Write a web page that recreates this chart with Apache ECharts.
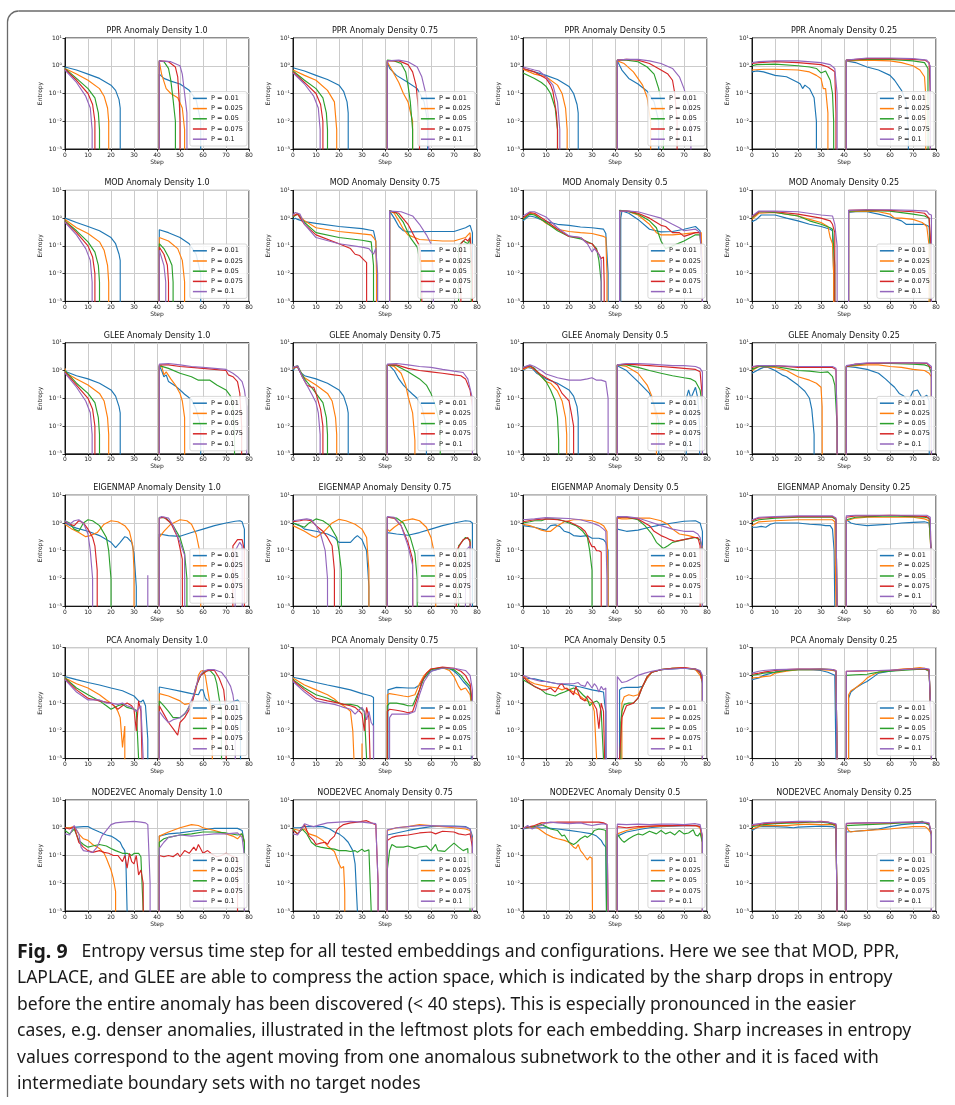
<!DOCTYPE html>
<html>
<head>
<meta charset="utf-8">
<script src="https://cdn.jsdelivr.net/npm/echarts@6/dist/echarts.min.js"></script>
<style>
  html, body { margin: 0; padding: 0; background: #fff; }
  #main { width: 955px; height: 1105px; }
</style>
</head>
<body>
<div id="main"></div>
<script>
// categories
const embeddings = ['PPR', 'MOD', 'GLEE', 'EIGENMAP', 'PCA', 'NODE2VEC'];
const densities = ['1.0', '0.75', '0.5', '0.25'];
const pLabels = ['P = 0.01', 'P = 0.025', 'P = 0.05', 'P = 0.075', 'P = 0.1'];
const stepTicks = [0, 10, 20, 30, 40, 50, 60, 70, 80];
const entropyTicks = ['10\u207B\u00B3', '10\u207B\u00B2', '10\u207B\u00B9', '10\u2070', '10\u00B9'];

// each series: flat list step, entropy, step, entropy ... (0 = entropy zero, off the log axis)
const PPR_10 = [
  [0,0.9, 5,0.7, 10,0.5, 15,0.35, 20,0.2, 22,0.13, 23.5,0.06, 24,0.03, 24.3,0, 40.9,0, 41,0.5, 43,0.35, 46,0.28, 50,0.22, 54,0.13, 57,0.06, 59,0.01, 59.3,0],
  [0,0.8, 5,0.5, 10,0.3, 15,0.15, 17,0.08, 18.5,0.03, 19,0.01, 19.2,0, 40.9,0, 41,1.4, 42,0.5, 44,0.15, 46,0.1, 49,0.07, 51,0.03, 52,0.005, 52.2,0],
  [0,0.8, 5,0.35, 10,0.15, 13,0.07, 14.5,0.02, 15,0.005, 15.2,0, 40.9,0, 41,1.5, 43,1.4, 45,0.8, 46,0.3, 47,0.06, 48,0.01, 48.3,0],
  [0,0.75, 5,0.3, 10,0.1, 12,0.04, 13,0.01, 13.2,0, 40.9,0, 41,1.5, 45,1.4, 48,0.9, 49,0.4, 49.7,0.05, 50,0.01, 50.2,0],
  [0,0.7, 5,0.25, 9,0.08, 11,0.03, 11.8,0.005, 12,0, 40.9,0, 41,1.5, 46,1.4, 50,1.0, 51,0.5, 52,0.1, 53,0.02, 53.5,0]
];
const PPR_075 = [
  [0,0.85, 5,0.65, 10,0.45, 15,0.32, 20,0.2, 22,0.12, 23.5,0.05, 24,0.02, 24.3,0, 40.9,0, 41,1.4, 42,0.8, 45,0.45, 50,0.25, 54,0.15, 57,0.05, 58.5,0.01, 59,0],
  [0,0.7, 5,0.45, 10,0.3, 15,0.13, 18,0.05, 19,0.005, 19.2,0, 40.9,0, 41,1.4, 43,0.7, 46,0.25, 48,0.1, 50,0.05, 52,0.01, 52.5,0],
  [0,0.65, 5,0.3, 10,0.15, 13,0.07, 14.5,0.02, 15,0.005, 15.2,0, 40.9,0, 41,1.6, 44,1.5, 47,1.2, 49,0.6, 50,0.2, 51,0.05, 52,0.005, 52.2,0],
  [0,0.6, 5,0.25, 10,0.1, 12,0.04, 13,0.01, 13.2,0, 40.9,0, 41,1.5, 46,1.5, 50,1.1, 52,0.6, 53.5,0.2, 54.5,0.03, 55,0.005, 55.2,0],
  [0,0.55, 5,0.22, 9,0.08, 11,0.03, 11.8,0.005, 12,0, 40.9,0, 41,1.5, 46,1.6, 50,1.4, 54,0.9, 56,0.4, 58,0.08, 59,0.01, 59.2,0]
];
const PPR_05 = [
  [0,0.8, 5,0.6, 10,0.45, 15,0.32, 20,0.18, 22,0.1, 23.5,0.04, 24,0.02, 24.3,0, 40.9,0, 41,1.5, 43,0.7, 46,0.35, 50,0.22, 54,0.12, 57,0.05, 59,0.01, 59.3,0],
  [0,0.75, 5,0.5, 10,0.4, 15,0.2, 17,0.1, 18.5,0.03, 19.2,0.005, 19.4,0, 40.9,0, 41,1.5, 44,1.2, 48,0.6, 52,0.2, 54,0.07, 55.5,0.01, 56,0],
  [0,0.55, 5,0.35, 8,0.25, 10,0.18, 12,0.1, 14,0.03, 15,0.005, 15.2,0, 40.9,0, 41,1.6, 45,1.6, 50,1.4, 54,0.9, 57,0.5, 59,0.15, 61,0.02, 61.5,0],
  [0,0.8, 5,0.6, 10,0.35, 12,0.2, 13,0.12, 14.5,0.02, 15,0.005, 15.2,0, 40.9,0, 41,1.6, 45,1.7, 50,1.6, 55,1.2, 60,0.7, 63,0.5, 65,0.3, 66,0.1, 67,0.01, 67.2,0],
  [0,0.9, 5,0.7, 7,0.65, 10,0.4, 13,0.2, 15,0.05, 16,0.005, 16.2,0, 40.9,0, 41,1.6, 45,1.7, 50,1.7, 55,1.5, 60,1.2, 65,0.8, 68,0.4, 70,0.15, 72,0.04, 73,0.005, 73.2,0]
];
const PPR_025 = [
  [0,0.6, 2,0.65, 5,0.6, 10,0.45, 15,0.4, 20,0.25, 21,0.22, 22,0.15, 23,0.2, 25,0.15, 27,0.07, 28,0.01, 28.2,0, 40.9,0, 41,1.5, 45,1.3, 50,0.9, 55,0.7, 60,0.45, 62,0.3, 65,0.13, 67,0.05, 68,0.005, 68.2,0],
  [0,0.7, 5,0.75, 10,0.75, 20,0.7, 25,0.6, 28,0.45, 30,0.35, 31,0.15, 32,0.15, 33,0.02, 33.2,0, 40.9,0, 41,1.5, 50,1.6, 60,1.5, 65,1.3, 70,1.0, 73,0.7, 75,0.4, 75.5,0.1, 76,0],
  [0,1.0, 2,1.1, 10,1.15, 20,1.0, 25,0.9, 28,0.8, 30,0.55, 32,0.65, 34,0.3, 35,0.1, 35.5,0.01, 36,0, 40.9,0, 41,1.6, 50,1.7, 60,1.7, 70,1.5, 75,1.3, 76.5,0.8, 77,0],
  [0,1.2, 3,1.3, 10,1.4, 20,1.3, 30,1.1, 33,0.9, 35,0.7, 36,0.6, 36.5,0.02, 37,0, 40.9,0, 41,1.6, 50,1.8, 60,1.8, 70,1.7, 75,1.6, 77,1.3, 77.5,0.1, 78,0],
  [0,1.3, 3,1.4, 10,1.5, 20,1.5, 30,1.3, 34,1.1, 36,0.8, 37,0.1, 37.2,0, 40.9,0, 41,1.6, 50,1.9, 60,1.9, 70,1.8, 76,1.6, 77.5,1.0, 78,0]
];

const MOD_10 = [
  [0,1.0, 5,0.7, 10,0.5, 15,0.35, 20,0.2, 22,0.12, 23.5,0.05, 24,0.03, 24.3,0, 40.9,0, 41,0.38, 45,0.3, 50,0.2, 54,0.12, 57,0.05, 59,0.01, 59.3,0],
  [0,0.9, 5,0.45, 10,0.28, 15,0.14, 17,0.07, 18.5,0.02, 19,0.005, 19.2,0, 40.9,0, 41,0.2, 45,0.15, 49,0.08, 51,0.03, 52,0.005, 52.2,0],
  [0,0.8, 5,0.35, 10,0.14, 13,0.06, 14.5,0.02, 15,0.005, 15.2,0, 40.9,0, 41,0.12, 43,0.08, 45,0.04, 46.5,0.02, 47,0.005, 47.2,0],
  [0,0.75, 5,0.3, 10,0.1, 12,0.04, 13,0.01, 13.2,0, 40.9,0, 41,0.09, 43,0.05, 44.5,0.02, 45,0.005, 45.2,0],
  [0,0.7, 5,0.25, 9,0.08, 11,0.03, 11.8,0.005, 12,0, 40.9,0, 41,0.07, 43,0.02, 43.8,0.005, 44,0]
];
const MOD_075 = [
  [0,0.9, 1,1.0, 2,0.9, 5,0.75, 10,0.65, 20,0.5, 30,0.42, 35,0.35, 36,0.15, 36.5,0.01, 36.7,0, 41.9,0, 42,1.8, 44,1.0, 46,0.5, 48,0.35, 50,0.32, 60,0.33, 70,0.33, 75,0.45, 77,0.55, 78,0.3, 78.3,0],
  [0,1.2, 2,1.5, 5,0.8, 10,0.45, 20,0.33, 30,0.27, 34,0.25, 35,0.2, 36,0.15, 36.3,0.01, 36.5,0, 41.9,0, 42,1.8, 44,1.5, 46,0.8, 48,0.4, 50,0.25, 55,0.17, 60,0.16, 65,0.15, 70,0.15, 75,0.2, 77,0.3, 78,0.01, 78.3,0],
  [0,1.1, 2,1.4, 5,0.7, 10,0.3, 20,0.2, 30,0.16, 34,0.14, 35,0.02, 35.2,0, 41.9,0, 42,1.9, 45,1.5, 48,0.7, 51,0.2, 54,0.09, 55.5,0.02, 56,0, 71.8,0, 72,0.1, 74,0.15, 76,0.12, 77,0.18, 77.5,0.01, 77.7,0],
  [0,1.2, 2,1.4, 5,0.6, 10,0.25, 20,0.12, 25,0.08, 27,0.05, 29,0.045, 31,0.03, 32,0.025, 32.2,0, 41.9,0, 42,1.8, 46,1.5, 50,0.6, 53,0.2, 55,0.1, 56,0.01, 56.2,0, 72.8,0, 73,0.12, 75,0.18, 76,0.15, 77,0.2, 78,0.01, 78.2,0],
  [0,1.3, 1,1.6, 3,1.4, 5,0.6, 10,0.2, 20,0.12, 30,0.09, 33,0.08, 35,0.05, 36,0.08, 36.8,0.01, 37,0, 41.9,0, 42,1.8, 47,1.7, 52,1.2, 55,0.6, 58,0.25, 60,0.12, 61,0.01, 61.2,0]
];
const MOD_05 = [
  [0,0.8, 2,1.1, 3,1.2, 5,1.1, 10,0.75, 15,0.6, 20,0.55, 25,0.48, 30,0.45, 35,0.4, 36,0.28, 37,0.01, 37.3,0, 42.4,0, 42.5,1.0, 43,1.8, 46,1.5, 50,0.9, 55,0.4, 60,0.32, 65,0.33, 70,0.4, 75,0.5, 77,0.35, 78,0.01, 78.3,0],
  [0,1.0, 3,1.5, 5,1.4, 10,0.65, 15,0.4, 20,0.33, 25,0.3, 30,0.28, 35,0.22, 36,0.2, 36.5,0.01, 37,0, 41.9,0, 42,1.8, 45,1.8, 50,1.3, 55,0.6, 58,0.3, 60,0.25, 65,0.25, 70,0.27, 75,0.3, 77.5,0.3, 78,0.01, 78.2,0],
  [0,0.9, 3,1.4, 5,1.3, 10,0.7, 15,0.35, 20,0.22, 25,0.18, 30,0.12, 32,0.08, 33,0.03, 34,0.005, 34.2,0, 41.9,0, 42,1.9, 45,1.8, 50,1.4, 55,0.8, 58,0.45, 60,0.15, 62,0.08, 65,0.1, 70,0.15, 75,0.25, 77,0.25, 78,0.01, 78.2,0],
  [0,1.0, 3,1.6, 5,1.5, 10,0.8, 15,0.4, 20,0.22, 25,0.2, 28,0.13, 30,0.12, 32,0.07, 34,0.035, 35,0.04, 35.3,0.005, 35.5,0, 41.9,0, 42,1.8, 46,1.8, 50,1.5, 55,1.0, 60,0.55, 62,0.5, 65,0.3, 68,0.3, 70,0.22, 72,0.25, 75,0.3, 77,0.3, 78,0.01, 78.2,0],
  [0,1.2, 3,1.7, 5,1.7, 10,1.1, 15,0.45, 20,0.23, 25,0.2, 28,0.12, 30,0.06, 31,0.08, 33,0.05, 34,0.03, 34.3,0, 41.9,0, 42,1.8, 46,1.8, 50,1.7, 55,1.3, 60,1.0, 65,0.6, 68,0.45, 70,0.35, 75,0.4, 77,0.3, 78,0.01, 78.2,0]
];
const MOD_025 = [
  [0,0.75, 2,0.9, 4,1.3, 10,1.3, 15,1.0, 20,0.8, 25,0.6, 30,0.5, 34,0.4, 35,0.35, 35.5,0.01, 35.7,0, 41.9,0, 42,1.6, 45,1.7, 50,1.7, 55,1.4, 60,1.1, 65,0.8, 67,0.6, 70,0.6, 75,0.6, 77,0.5, 78,0.01, 78.2,0],
  [0,0.9, 3,1.5, 10,1.6, 20,1.2, 25,0.9, 30,0.7, 33,0.5, 34,0.2, 35,0.12, 35.5,0.01, 35.7,0, 41.9,0, 42,1.7, 50,1.8, 55,1.7, 60,1.4, 62,1.0, 65,1.0, 70,0.9, 74,0.7, 76,0.5, 77,0.1, 77.2,0],
  [0,1.0, 3,1.7, 10,1.6, 20,1.2, 25,0.8, 30,0.6, 34,0.45, 35,0.4, 36,0.02, 36.2,0, 41.9,0, 42,1.8, 50,1.9, 60,1.8, 70,1.4, 75,1.2, 77,1.0, 77.5,0.1, 77.7,0],
  [0,1.1, 3,1.7, 10,1.7, 20,1.4, 30,1.0, 34,0.8, 35,0.6, 36,0.3, 36.2,0, 41.9,0, 42,1.9, 50,2.0, 60,1.9, 70,1.7, 75,1.5, 77,1.0, 77.8,0.1, 78,0],
  [0,1.2, 3,1.8, 10,1.8, 20,1.7, 30,1.3, 35,1.2, 36,0.6, 37,0.1, 37.2,0, 41.9,0, 42,1.9, 50,2.0, 60,2.0, 70,1.9, 76,1.8, 77,1.4, 78,1.3, 78.3,0]
];

const GLEE_10 = [
  [0,1.2, 0.5,0.9, 5,0.65, 10,0.5, 15,0.35, 20,0.2, 22,0.12, 23.5,0.05, 24,0.03, 24.3,0, 40.9,0, 41,1.5, 42,1.0, 43,0.6, 44,0.7, 45,0.4, 48,0.28, 50,0.2, 52,0.14, 55,0.09, 57,0.04, 59,0.01, 59.3,0],
  [0,1.2, 0.5,0.8, 5,0.5, 10,0.3, 15,0.15, 17,0.08, 18.5,0.02, 19,0.005, 19.2,0, 40.9,0, 41,1.3, 42,1.5, 43,0.7, 44,0.9, 46,0.5, 48,0.3, 50,0.15, 51,0.08, 52,0.02, 52.5,0],
  [0,1.0, 5,0.35, 10,0.15, 13,0.07, 14.5,0.02, 15,0.005, 15.2,0, 40.9,0, 41,1.5, 45,1.2, 50,0.8, 55,0.6, 58,0.45, 60,0.45, 63,0.45, 66,0.3, 70,0.2, 72,0.12, 73,0.05, 73.7,0.005, 74,0],
  [0,0.9, 5,0.3, 10,0.1, 12,0.04, 13,0.01, 13.2,0, 40.9,0, 41,1.6, 45,1.6, 50,1.4, 55,1.3, 60,1.2, 65,1.1, 70,1.0, 71,0.7, 73,0.6, 75,0.4, 76,0.15, 76.8,0.01, 77,0],
  [0,0.8, 5,0.25, 9,0.08, 11,0.03, 11.8,0.005, 12,0, 40.9,0, 41,1.7, 45,1.8, 50,1.6, 55,1.4, 60,1.3, 65,1.2, 70,1.1, 73,0.8, 75,0.6, 77,0.4, 78,0.2, 79,0.05, 79.3,0]
];
const GLEE_075 = [
  [0,1.0, 1,1.3, 2,1.3, 3,0.9, 5,0.65, 10,0.5, 15,0.35, 20,0.2, 22,0.12, 23.5,0.05, 24,0.03, 24.3,0, 40.9,0, 41,1.6, 42,1.5, 44,1.0, 46,0.5, 48,0.3, 50,0.2, 52,0.14, 54,0.1, 56,0.05, 58,0.01, 58.5,0],
  [0,1.2, 2,1.4, 4,0.7, 5,0.55, 10,0.3, 15,0.15, 17,0.08, 18.5,0.02, 19,0.005, 19.2,0, 40.9,0, 41,1.6, 44,1.4, 47,0.8, 49,0.3, 50,0.12, 52,0.03, 53,0.003, 53.2,0],
  [0,1.3, 2,1.5, 4,0.7, 5,0.5, 8,0.25, 10,0.15, 13,0.07, 14.5,0.02, 15,0.005, 15.2,0, 40.9,0, 41,1.6, 45,1.5, 50,0.9, 55,0.5, 58,0.3, 60,0.15, 62,0.05, 64,0.01, 64.5,0],
  [0,1.3, 2,1.4, 4,0.6, 6,0.3, 8,0.25, 9,0.25, 10,0.15, 12,0.04, 13,0.01, 13.2,0, 40.9,0, 41,1.6, 45,1.6, 50,1.2, 55,1.0, 60,0.9, 65,0.8, 70,0.7, 73,0.65, 75,0.5, 77,0.2, 78,0.05, 78.5,0],
  [0,1.3, 2,1.5, 4,0.6, 6,0.3, 8,0.15, 10,0.07, 11,0.03, 11.8,0.005, 12,0, 40.9,0, 41,1.7, 45,1.8, 50,1.6, 55,1.4, 60,1.3, 65,1.1, 70,0.95, 74,0.85, 76,0.5, 78,0.1, 78.5,0]
];
const GLEE_05 = [
  [0,1.0, 2,1.3, 4,1.2, 6,0.8, 10,0.5, 15,0.35, 20,0.2, 22,0.12, 23.5,0.05, 24,0.02, 24.3,0, 40.9,0, 41,1.5, 45,1.0, 50,0.4, 55,0.15, 57,0.06, 59,0.015, 59.5,0, 70.8,0, 71,0.1, 72,0.2, 73,0.1, 75,0.25, 76,0.1, 76.8,0.01, 77,0],
  [0,1.1, 3,1.4, 5,1.1, 8,0.6, 10,0.4, 12,0.35, 15,0.18, 17,0.08, 18.5,0.02, 19,0.005, 19.2,0, 40.9,0, 41,1.6, 45,1.4, 50,0.8, 54,0.3, 56,0.12, 58,0.02, 58.5,0],
  [0,1.3, 3,1.5, 5,1.2, 8,0.6, 10,0.4, 12,0.2, 14,0.08, 15,0.02, 15.5,0.003, 15.7,0, 40.9,0, 41,1.6, 45,1.6, 50,1.3, 55,1.0, 60,0.8, 65,0.65, 70,0.55, 73,0.5, 75,0.4, 77,0.2, 78,0.05, 78.3,0],
  [0,1.2, 3,1.5, 5,1.1, 8,0.7, 10,0.55, 13,0.4, 15,0.3, 17,0.15, 19,0.1, 20,0.08, 21,0.03, 22,0.01, 22.2,0, 40.9,0, 41,1.6, 45,1.7, 50,1.6, 55,1.5, 60,1.4, 65,1.3, 70,1.2, 75,1.1, 77,0.9, 78,0.1, 78.3,0],
  [0,1.3, 3,1.6, 5,1.4, 8,1.0, 10,0.75, 15,0.55, 20,0.45, 25,0.45, 28,0.5, 30,0.55, 32,0.45, 34,0.45, 36,0.4, 37,0.1, 37.2,0, 40.9,0, 41,1.6, 45,1.8, 50,1.8, 55,1.7, 60,1.6, 65,1.5, 70,1.5, 75,1.4, 77,1.2, 78,0.9, 78.5,0]
];
const GLEE_025 = [
  [0,0.8, 3,1.1, 5,1.3, 7,1.3, 10,1.0, 13,0.7, 15,0.6, 20,0.3, 23,0.18, 25,0.1, 26,0.04, 27,0.005, 27.2,0, 40.9,0, 41,1.4, 45,1.3, 50,1.1, 55,0.8, 58,0.5, 60,0.35, 62,0.25, 64,0.15, 66,0.12, 68,0.08, 70,0.18, 72,0.2, 74,0.1, 76,0.13, 77,0.08, 78,0],
  [0,1.0, 3,1.4, 10,1.3, 15,1.0, 20,0.6, 25,0.45, 28,0.35, 30,0.25, 30.5,0.05, 31,0, 40.9,0, 41,1.4, 45,1.5, 50,1.6, 55,1.6, 60,1.4, 65,1.3, 70,1.1, 75,1.0, 77,0.8, 78,0.6, 78.3,0],
  [0,1.1, 3,1.4, 10,1.4, 15,1.2, 20,1.0, 25,0.95, 30,0.85, 33,0.9, 35,0.6, 36,0.3, 37,0.01, 37.2,0, 40.9,0, 41,1.4, 45,1.6, 50,1.8, 60,1.8, 70,1.7, 75,1.6, 77,1.4, 78,0.8, 78.3,0],
  [0,1.3, 3,1.5, 10,1.5, 20,1.3, 30,1.3, 35,1.3, 36.5,1.1, 37,0.01, 37.2,0, 40.9,0, 41,1.4, 45,1.7, 50,1.8, 60,1.9, 70,1.9, 76,1.8, 78,1.2, 78.3,0],
  [0,1.4, 3,1.5, 10,1.5, 20,1.4, 30,1.4, 35,1.4, 36.5,1.2, 37,0.01, 37.2,0, 40.9,0, 41,1.5, 45,1.7, 50,1.9, 60,1.9, 70,1.9, 76,1.9, 78,1.4, 78.5,0]
];

const EIGENMAP_10 = [
  [0,1.0, 3,0.75, 5,0.65, 10,0.5, 15,0.35, 20,0.2, 22,0.13, 24,0.2, 26,0.32, 27,0.3, 29,0.2, 30,0.08, 31,0.005, 31.2,0, 40.9,0, 41,0.4, 45,0.35, 50,0.33, 55,0.45, 60,0.6, 65,0.8, 70,1.0, 74,1.15, 76,1.2, 77,1.1, 78,0.6, 78.3,0],
  [0,0.9, 3,0.6, 6,0.45, 9,0.32, 11,0.35, 14,0.45, 17,0.9, 20,1.2, 23,1.1, 26,0.8, 28,0.5, 29.5,0.15, 30,0.02, 30.2,0, 40.9,0, 41,0.3, 43,0.5, 46,0.9, 50,1.3, 53,1.2, 55,0.9, 57,0.4, 58.5,0.1, 59,0.03, 59.3,0],
  [0,1.2, 2,1.0, 4,0.6, 6,0.5, 8,1.0, 10,1.3, 12,1.2, 15,0.8, 18,0.3, 19,0.1, 20,0.01, 20.2,0, 40.9,0, 41,1.6, 44,1.5, 47,0.8, 50,0.3, 52,0.08, 53,0.01, 53.3,0],
  [0,1.1, 2,0.9, 4,0.8, 6,1.2, 8,1.0, 10,0.6, 12,0.3, 13,0.15, 14,0.02, 14.2,0, 40.9,0, 41,1.5, 43,1.6, 46,1.0, 49,0.3, 51,0.05, 52,0, 72.8,0, 73,0.15, 75,0.25, 77,0.25, 78,0.1, 78.3,0],
  [0,1.2, 2,0.9, 4,1.2, 6,1.3, 8,1.0, 10,0.4, 11,0.1, 12,0.01, 12.2,0, 35.9,0, 36,0.013, 36.1,0, 40.9,0, 41,1.5, 42,1.7, 45,1.5, 47,0.8, 50,0.2, 52,0.07, 53,0, 73.8,0, 74,0.1, 76,0.2, 77,0.15, 78,0]
];
const EIGENMAP_075 = [
  [0,1.0, 3,0.8, 5,0.6, 10,0.5, 15,0.4, 18,0.3, 20,0.2, 23,0.2, 25,0.2, 27,0.3, 28,0.35, 30,0.25, 32,0.1, 33,0.005, 33.2,0, 40.9,0, 41,0.45, 45,0.4, 50,0.36, 55,0.45, 60,0.6, 65,0.8, 70,1.0, 75,1.2, 77,1.15, 78,1.0, 78.2,0],
  [0,0.8, 5,0.5, 8,0.35, 10,0.3, 13,0.45, 17,1.0, 20,1.35, 23,1.2, 27,0.9, 30,0.6, 32,0.3, 33,0.02, 33.2,0, 40.9,0, 41,0.6, 42,0.5, 44,0.7, 48,1.2, 52,1.4, 55,1.2, 58,0.7, 60,0.3, 62,0.05, 63,0],
  [0,1.0, 3,0.8, 5,0.7, 7,1.0, 10,1.4, 13,1.2, 16,0.8, 19,0.3, 20,0.1, 21,0.02, 22,0, 40.9,0, 41,1.6, 45,1.5, 48,1.0, 51,0.3, 53,0.08, 54,0.01, 54.5,0, 71.8,0, 72,0.15, 75,0.3, 77,0.25, 78,0],
  [0,1.1, 3,1.2, 5,1.3, 8,1.2, 10,0.8, 13,0.5, 15,0.3, 17,0.15, 18,0.02, 18.2,0, 40.9,0, 41,1.6, 44,1.5, 47,0.8, 50,0.2, 52,0.05, 53,0, 70.8,0, 71,0.1, 74,0.25, 76,0.3, 77,0.2, 78,0],
  [0,1.2, 3,1.3, 6,1.4, 8,1.3, 10,0.8, 12,0.4, 14,0.1, 15,0.01, 15.2,0, 40.9,0, 41,1.7, 44,1.6, 47,0.8, 50,0.15, 52,0.03, 53,0, 74.8,0, 75,0.1, 77,0.15, 78,0]
];
const EIGENMAP_05 = [
  [0,0.8, 5,0.7, 8,0.6, 10,0.55, 12,0.8, 14,0.85, 16,0.75, 18,0.5, 20,0.45, 22,0.35, 25,0.33, 28,0.35, 30,0.28, 33,0.28, 35,0.25, 36,0.2, 37,0.1, 37.2,0, 40.9,0, 41,0.6, 45,0.5, 50,0.55, 55,0.7, 60,0.85, 65,1.0, 70,1.15, 75,1.2, 77,1.0, 78,0.5, 78.2,0],
  [0,0.9, 3,0.8, 5,0.7, 8,0.55, 10,0.5, 12,0.5, 15,0.8, 18,1.1, 22,1.3, 25,1.3, 30,1.2, 33,1.0, 35,0.8, 36.5,0.5, 37,0.01, 37.2,0, 40.9,0, 41,1.5, 43,1.4, 45,1.4, 50,1.5, 55,1.5, 60,1.2, 63,0.9, 65,0.6, 68,0.4, 72,0.35, 75,0.3, 77,0.25, 78,0.12, 78.3,0],
  [0,1.0, 3,1.1, 5,1.2, 8,1.2, 10,1.4, 13,1.4, 16,1.3, 20,1.0, 23,0.8, 26,0.5, 28,0.3, 29,0.1, 30,0.02, 30.2,0, 40.9,0, 41,1.6, 45,1.6, 50,1.3, 53,0.8, 56,0.4, 58,0.2, 61,0.12, 63,0.15, 65,0.2, 70,0.25, 75,0.3, 77,0.25, 78,0.1, 78.2,0],
  [0,1.1, 5,1.3, 10,1.4, 15,1.3, 20,1.1, 25,0.7, 27,0.5, 28,0.35, 29,0.2, 30,0.14, 31,0.14, 32,0.1, 33,0.1, 34,0.09, 34.2,0, 40.9,0, 41,1.6, 45,1.6, 50,1.4, 55,0.8, 57,0.5, 60,0.35, 62,0.3, 64,0.25, 66,0.22, 70,0.25, 74,0.3, 76,0.3, 77,0.15, 77.3,0],
  [0,1.3, 5,1.4, 10,1.55, 15,1.5, 20,1.45, 25,1.3, 30,1.0, 33,0.8, 35,0.6, 36,0.5, 36.5,0.01, 36.7,0, 40.9,0, 41,1.7, 45,1.7, 50,1.5, 55,1.1, 60,0.8, 65,0.6, 70,0.5, 74,0.5, 76,0.4, 77,0.3, 78,0.1, 78.3,0]
];
const EIGENMAP_025 = [
  [0,0.7, 2,0.7, 4,0.75, 6,0.7, 8,0.9, 10,1.0, 15,1.0, 20,1.0, 25,0.9, 30,0.85, 32,0.8, 34,0.8, 35,0.6, 35.7,0.1, 36,0.001, 36.2,0, 40.9,0, 41,1.3, 43,1.0, 45,0.9, 50,0.8, 55,0.85, 60,0.9, 65,1.0, 70,1.05, 75,1.1, 77,1.0, 78,0.1, 78.2,0],
  [0,0.8, 3,1.1, 10,1.2, 20,1.3, 30,1.3, 35,1.3, 36,1.1, 36.5,0.001, 37,0, 40.9,0, 41,1.2, 45,1.5, 50,1.6, 60,1.6, 70,1.6, 75,1.4, 77,1.2, 78,0.05, 78.2,0],
  [0,1.1, 3,1.3, 10,1.5, 20,1.6, 30,1.6, 35,1.6, 36.5,1.3, 37,0.001, 37.2,0, 40.9,0, 41,1.3, 45,1.6, 50,1.7, 60,1.8, 70,1.7, 75,1.6, 77,1.5, 78,0.05, 78.2,0],
  [0,1.2, 3,1.5, 10,1.6, 20,1.7, 30,1.7, 35,1.7, 36.5,1.4, 37,0.001, 37.2,0, 40.9,0, 41,1.6, 45,1.8, 50,1.8, 60,1.9, 70,1.8, 76,1.7, 77.5,1.3, 78,0.01, 78.2,0],
  [0,1.3, 3,1.6, 10,1.7, 20,1.8, 30,1.8, 35,1.8, 36.5,1.5, 37,0.001, 37.2,0, 40.9,0, 41,1.8, 45,1.9, 50,1.9, 60,1.9, 70,1.9, 76,1.9, 77.5,1.6, 78,0.01, 78.2,0]
];

const PCA_10 = [
  [0,0.9, 5,0.7, 10,0.55, 15,0.45, 20,0.35, 25,0.28, 30,0.18, 32,0.12, 33,0.11, 34,0.13, 35,0.08, 36,0.005, 36.2,0, 40.9,0, 41,0.38, 45,0.33, 50,0.27, 55,0.22, 58,0.2, 59,0.3, 60,0.3, 61,0.15, 63,0.1, 65,0.09, 70,0.09, 75,0.13, 76.3,0.1, 76.5,0],
  [0,0.8, 5,0.5, 10,0.35, 15,0.2, 18,0.13, 20,0.1, 22,0.07, 23,0.05, 24,0.03, 25,0.0025, 26,0.015, 26.2,0, 40.9,0, 41,0.22, 45,0.18, 50,0.12, 52,0.09, 55,0.1, 57,0.3, 58,1.0, 59,1.4, 60,1.5, 61,1.0, 62,0.3, 63,0.1, 64,0.03, 65,0],
  [0,0.8, 5,0.35, 10,0.2, 15,0.12, 18,0.08, 20,0.06, 23,0.08, 25,0.09, 27,0.07, 30,0.06, 31,0.055, 32,0.001, 32.2,0, 40.9,0, 41,0.12, 43,0.08, 45,0.05, 47,0.03, 50,0.03, 52,0.04, 55,0.1, 57,0.4, 59,1.0, 61,1.4, 63,1.5, 65,1.0, 66,0.5, 67,0.15, 68,0.05, 69,0],
  [0,0.75, 5,0.3, 10,0.15, 15,0.12, 20,0.1, 23,0.06, 25,0.08, 27,0.1, 29,0.08, 30,0.06, 31,0.01, 32,0.12, 33,0.05, 33.5,0.001, 34,0, 40.9,0, 41,0.08, 43,0.04, 45,0.02, 47,0.012, 49,0.007, 50,0.02, 52,0.03, 55,0.08, 57,0.4, 59,1.0, 62,1.5, 65,1.5, 67,0.8, 69,0.3, 70,0.05, 71,0],
  [0,0.7, 5,0.25, 10,0.13, 15,0.13, 18,0.1, 20,0.1, 23,0.09, 25,0.1, 27,0.08, 29,0.07, 31,0.05, 33,0.08, 34,0.001, 34.2,0, 40.9,0, 41,0.05, 43,0.03, 45,0.02, 47,0.025, 50,0.03, 53,0.05, 56,0.2, 58,0.8, 60,1.4, 62,1.6, 65,1.6, 68,1.3, 70,0.8, 72,0.4, 73,0.2, 74,0.05, 74.5,0]
];
const PCA_075 = [
  [0,0.85, 5,0.7, 10,0.55, 15,0.45, 20,0.37, 25,0.3, 30,0.22, 32,0.2, 34,0.18, 35,0.16, 35.2,0, 41.2,0, 41.3,0.3, 42,0.35, 45,0.37, 50,0.35, 53,0.35, 55,0.45, 57,0.8, 60,1.4, 65,1.9, 68,1.8, 70,1.4, 72,1.0, 74,0.6, 76,0.4, 77,0.3, 77.5,0.1, 78,0],
  [0,0.8, 5,0.45, 10,0.3, 15,0.2, 18,0.14, 20,0.1, 22,0.08, 24,0.06, 25,0.05, 26,0.01, 26.5,0.001, 27,0, 29.9,0, 30,0.0035, 30.1,0, 40.9,0, 41,0.2, 42,0.22, 45,0.2, 48,0.18, 50,0.17, 53,0.2, 55,0.5, 57,1.0, 60,1.7, 65,1.9, 68,1.5, 70,0.9, 72,0.4, 73,0.3, 75,0.35, 77,0.2, 78,0.05, 78.3,0],
  [0,0.7, 5,0.35, 10,0.2, 15,0.15, 20,0.1, 22,0.09, 25,0.09, 28,0.08, 30,0.06, 31,0.05, 32,0.001, 32.2,0, 40.9,0, 41,0.08, 42,0.1, 45,0.1, 48,0.09, 50,0.08, 52,0.08, 55,0.3, 57,0.8, 60,1.6, 65,1.9, 70,1.6, 73,1.0, 75,0.6, 77,0.4, 78,0.05, 78.3,0],
  [0,0.65, 5,0.3, 10,0.15, 15,0.12, 20,0.1, 22,0.09, 25,0.08, 27,0.07, 29,0.05, 30,0.04, 31,0.01, 32,0.07, 33,0.03, 33.5,0.001, 34,0, 40.9,0, 41,0.05, 42,0.06, 45,0.055, 48,0.05, 50,0.045, 52,0.05, 54,0.15, 56,0.6, 58,1.2, 60,1.7, 65,2.0, 70,1.8, 73,1.4, 75,1.0, 77,0.5, 78,0.1, 78.3,0],
  [0,0.6, 5,0.25, 10,0.12, 15,0.1, 18,0.09, 20,0.08, 22,0.07, 25,0.06, 27,0.04, 29,0.06, 30,0.07, 31,0.05, 32,0.025, 33,0.05, 34,0.02, 35,0.015, 35.2,0, 41.9,0, 42,0.03, 43,0.04, 45,0.04, 50,0.04, 53,0.05, 55,0.2, 57,0.6, 60,1.4, 65,1.8, 70,1.8, 75,1.5, 77,1.0, 78,0.3, 78.3,0]
];
const PCA_05 = [
  [0,0.8, 5,0.75, 10,0.6, 15,0.5, 20,0.45, 25,0.38, 30,0.3, 33,0.27, 35,0.25, 35.5,0.1, 36,0.05, 36.2,0, 41.9,0, 42,0.3, 43,0.35, 45,0.37, 50,0.37, 52,0.4, 54,0.8, 56,1.3, 60,1.6, 65,1.7, 70,1.8, 75,1.6, 77,1.2, 78,0.5, 78.2,0],
  [0,1.0, 3,0.6, 5,0.5, 10,0.4, 15,0.35, 17,0.3, 19,0.35, 20,0.3, 22,0.25, 24,0.2, 26,0.15, 28,0.12, 30,0.1, 31,0.05, 32,0.001, 32.2,0, 42.9,0, 43,0.1, 44,0.17, 46,0.2, 48,0.18, 50,0.2, 52,0.4, 54,0.8, 56,1.3, 60,1.6, 65,1.8, 70,1.9, 75,1.6, 77,1.0, 78,0.6, 78.2,0],
  [0,0.7, 3,0.5, 5,0.4, 8,0.3, 10,0.22, 12,0.2, 14,0.18, 16,0.22, 18,0.25, 20,0.3, 22,0.35, 24,0.3, 26,0.2, 28,0.14, 29,0.08, 30,0.1, 32,0.12, 33,0.1, 34,0.05, 35,0.001, 35.2,0, 42.4,0, 42.5,0.02, 43,0.05, 44,0.09, 46,0.1, 48,0.1, 50,0.15, 52,0.4, 54,0.9, 56,1.3, 60,1.6, 65,1.8, 70,1.8, 75,1.7, 77,1.4, 78,0.8, 78.2,0],
  [0,0.9, 2,0.6, 5,0.4, 8,0.3, 10,0.3, 12,0.35, 14,0.25, 16,0.45, 17,0.5, 18,0.35, 20,0.3, 22,0.2, 23,0.4, 25,0.15, 27,0.12, 28,0.18, 30,0.12, 32,0.06, 33,0.012, 34,0.1, 35,0.05, 35.5,0.001, 36,0, 41.9,0, 42,0.001, 43,0.03, 45,0.08, 48,0.1, 50,0.15, 52,0.4, 54,0.9, 56,1.3, 60,1.6, 65,1.8, 70,1.9, 75,1.7, 77,1.3, 78,0.6, 78.2,0],
  [0,1.0, 3,0.8, 5,0.7, 8,0.6, 10,0.6, 12,0.55, 15,0.5, 17,0.5, 20,0.5, 22,0.5, 24,0.55, 25,0.45, 27,0.4, 28,0.6, 30,0.35, 31,0.5, 32,0.4, 33,0.25, 34,0.4, 35,0.3, 36,0.35, 36.2,0.001, 36.5,0, 40.9,0, 41,0.9, 42,0.7, 43,0.55, 45,0.6, 48,0.8, 50,1.0, 53,1.2, 56,1.4, 60,1.6, 65,1.7, 70,1.8, 75,1.7, 77,1.5, 78,1.0, 78.2,0]
];
const PCA_025 = [
  [0,0.7, 3,0.8, 5,1.0, 10,1.3, 15,1.5, 20,1.6, 25,1.6, 30,1.5, 33,1.3, 35,1.1, 36,1.0, 36.5,0.001, 37,0, 41.9,0, 42,0.15, 43,0.25, 45,0.35, 48,0.5, 50,0.6, 53,0.9, 55,1.2, 60,1.4, 65,1.6, 70,1.7, 75,1.7, 77,1.4, 78,0.01, 78.2,0],
  [0,0.8, 3,0.85, 5,0.9, 8,0.95, 10,1.2, 15,1.4, 20,1.6, 25,1.6, 30,1.6, 35,1.5, 36.5,1.4, 37,0.001, 37.2,0, 41.9,0, 42,0.2, 43,0.28, 45,0.35, 48,0.55, 50,0.8, 53,1.1, 55,1.3, 60,1.5, 65,1.7, 70,1.8, 73,1.9, 75,1.8, 77,1.4, 78,0.01, 78.2,0],
  [0,1.0, 3,1.1, 5,1.2, 10,1.3, 15,1.5, 20,1.6, 25,1.6, 30,1.7, 35,1.6, 36.5,1.4, 37,0.001, 37.2,0, 40.9,0, 41,1.0, 45,1.05, 50,1.1, 55,1.3, 60,1.4, 65,1.5, 70,1.6, 75,1.7, 77,1.5, 78,0.01, 78.2,0],
  [0,1.1, 3,1.2, 5,1.3, 10,1.5, 15,1.6, 20,1.7, 25,1.7, 30,1.7, 35,1.6, 36.5,1.5, 37,0.001, 37.2,0, 40.9,0, 41,1.4, 45,1.4, 50,1.45, 55,1.5, 60,1.5, 65,1.6, 70,1.7, 75,1.7, 77,1.6, 78,0.01, 78.2,0],
  [0,1.2, 3,1.4, 5,1.5, 10,1.6, 15,1.65, 20,1.7, 25,1.7, 30,1.7, 35,1.6, 36.5,1.5, 37,0.001, 37.2,0, 40.9,0, 41,1.4, 45,1.45, 50,1.5, 55,1.5, 60,1.55, 65,1.6, 70,1.7, 75,1.8, 77,1.7, 78,0.01, 78.2,0]
];

const NODE2VEC_10 = [
  [0,1.0, 3,1.0, 5,1.05, 8,1.1, 10,1.1, 12,0.9, 15,0.7, 18,0.55, 20,0.5, 22,0.4, 24,0.3, 25,0.2, 26,0.15, 26.5,0.05, 27,0.001, 27.2,0, 40.9,0, 41,0.5, 43,0.55, 45,0.6, 50,0.65, 55,0.75, 60,0.85, 65,0.95, 70,0.95, 75,0.95, 77,0.8, 78,0.3, 78.3,0],
  [0,1.0, 2,1.0, 4,1.1, 6,0.6, 8,0.4, 10,0.35, 12,0.25, 15,0.18, 17,0.12, 18,0.08, 20,0.03, 21,0.015, 22,0.005, 22.2,0, 40.9,0, 41,0.5, 45,0.7, 50,1.0, 55,1.3, 58,1.2, 60,1.0, 65,0.8, 70,0.6, 73,0.5, 75,0.4, 77,0.6, 78,0.3, 78.3,0],
  [0,0.8, 2,0.6, 4,0.9, 6,0.35, 8,0.25, 10,0.2, 12,0.22, 15,0.25, 18,0.22, 20,0.18, 22,0.15, 25,0.12, 27,0.12, 29,0.1, 30,0.12, 32,0.12, 33,0.09, 34,0.001, 34.2,0, 40.9,0, 41,0.3, 43,0.4, 45,0.45, 50,0.55, 55,0.6, 60,0.7, 65,0.7, 70,0.65, 75,0.55, 77,0.6, 78,0.3, 78.3,0],
  [0,1.0, 2,0.9, 4,1.1, 6,0.3, 8,0.2, 10,0.15, 12,0.13, 15,0.15, 17,0.13, 19,0.12, 21,0.1, 23,0.1, 25,0.06, 26,0.1, 27,0.035, 28,0.12, 29,0.06, 30,0.05, 31,0.1, 32,0.02, 33,0.03, 34,0.01, 34.2,0, 40.9,0, 41,0.1, 43,0.09, 45,0.1, 47,0.09, 49,0.12, 50,0.09, 52,0.15, 54,0.12, 56,0.2, 57,0.15, 58,0.25, 60,0.12, 62,0.15, 64,0.11, 66,0.09, 68,0.1, 70,0.12, 72,0.1, 75,0.08, 75.2,0],
  [0,0.6, 2,0.55, 4,1.2, 6,0.6, 7,0.2, 8,0.15, 10,0.14, 12,0.13, 14,0.2, 16,0.5, 18,0.8, 20,1.3, 22,1.5, 25,1.6, 30,1.7, 33,1.6, 35,1.5, 36,1.3, 37,0.01, 37.2,0, 40.9,0, 41,0.18, 43,0.3, 45,0.45, 50,0.55, 55,0.5, 60,0.55, 65,0.6, 70,0.6, 75,0.65, 77,0.45, 78,0.1, 78.2,0]
];
const NODE2VEC_075 = [
  [0,1.0, 3,1.0, 5,1.1, 8,1.1, 10,1.1, 13,1.1, 16,0.9, 18,0.7, 20,0.6, 22,0.45, 24,0.3, 26,0.15, 27,0.05, 28,0.001, 28.2,0, 40.9,0, 41,0.55, 45,0.65, 50,0.8, 55,0.95, 60,1.1, 65,1.15, 70,1.15, 75,1.1, 77,0.9, 78,0.5, 78.2,0],
  [0,0.9, 3,0.8, 5,0.9, 7,0.6, 10,0.5, 13,0.35, 15,0.22, 18,0.14, 20,0.05, 21,0.035, 22,0.04, 22.5,0.005, 23,0, 40.9,0, 41,0.8, 45,1.0, 50,1.1, 55,1.3, 60,1.2, 65,1.1, 70,1.0, 75,0.9, 77,0.8, 78,0.4, 78.2,0],
  [0,0.9, 2,0.6, 4,0.9, 6,0.6, 8,0.3, 10,0.22, 12,0.2, 15,0.18, 18,0.17, 20,0.15, 23,0.15, 25,0.14, 27,0.15, 28,0.13, 30,0.17, 31,0.14, 33,0.16, 34,0.001, 34.2,0, 40.9,0, 41,0.03, 42,0.15, 43,0.25, 45,0.2, 48,0.2, 50,0.22, 53,0.18, 55,0.2, 58,0.22, 60,0.15, 62,0.25, 63,0.15, 66,0.14, 68,0.2, 70,0.28, 72,0.2, 74,0.15, 76,0.18, 77,0.001, 77.2,0],
  [0,0.8, 2,0.6, 5,1.3, 7,0.5, 9,0.35, 10,0.25, 12,0.28, 14,0.3, 15,0.25, 16,0.35, 18,0.5, 19,0.8, 20,1.0, 22,1.3, 25,1.5, 28,1.6, 30,1.7, 32,1.8, 34,1.5, 36,1.3, 37,0.01, 37.2,0, 40.9,0, 41,0.35, 43,0.45, 45,0.5, 50,0.55, 55,0.65, 60,0.7, 62,0.6, 65,0.75, 70,0.7, 72,0.6, 75,0.55, 77,0.6, 78,0.2, 78.2,0],
  [0,0.6, 2,0.55, 4,1.0, 5,1.4, 7,1.2, 9,1.1, 12,1.3, 15,1.5, 20,1.6, 25,1.7, 30,1.6, 33,1.5, 36,1.4, 37,0.01, 37.2,0, 40.9,0, 41,0.85, 45,1.0, 50,1.1, 55,1.2, 60,1.2, 65,1.15, 70,1.1, 75,1.05, 77,0.9, 78,0.3, 78.2,0]
];
const NODE2VEC_05 = [
  [0,0.9, 3,1.0, 5,1.0, 8,1.0, 10,1.0, 15,0.9, 20,0.8, 25,0.7, 30,0.6, 32,0.5, 34,0.35, 35,0.25, 36,0.2, 36.3,0.001, 36.5,0, 40.9,0, 41,0.5, 45,0.7, 50,0.85, 55,1.0, 60,1.1, 65,1.15, 70,1.2, 75,1.2, 77,1.1, 78,0.3, 78.2,0],
  [0,1.0, 3,1.0, 5,1.1, 7,0.9, 10,0.6, 13,0.45, 15,0.4, 18,0.35, 20,0.3, 22,0.2, 23,0.18, 24,0.25, 25,0.15, 26,0.12, 27,0.09, 28,0.07, 29,0.09, 30,0.08, 30.2,0.001, 30.5,0, 40.9,0, 41,0.6, 45,0.8, 50,1.0, 55,1.1, 60,1.15, 65,1.2, 70,1.25, 75,1.2, 77,1.0, 78,0.3, 78.2,0],
  [0,1.0, 3,1.1, 5,1.1, 8,1.3, 10,1.1, 12,0.9, 15,0.8, 17,0.5, 18,0.55, 20,0.3, 22,0.25, 23,0.28, 25,0.4, 27,0.5, 28,0.45, 30,0.6, 31,0.8, 33,0.9, 35,0.85, 36,0.8, 36.3,0.001, 36.5,0, 40.9,0, 41,0.6, 42,0.45, 43,0.35, 44,0.3, 46,0.4, 48,0.5, 50,0.6, 52,0.55, 55,0.75, 58,0.6, 60,0.8, 62,0.6, 64,0.7, 66,0.55, 68,0.8, 70,0.6, 72,0.65, 74,0.85, 75,0.55, 76,0.5, 77,0.65, 78,0.3, 78.2,0],
  [0,1.0, 3,1.1, 5,1.2, 8,1.5, 10,1.5, 15,1.6, 20,1.6, 25,1.6, 30,1.6, 33,1.6, 35,1.5, 36.5,1.3, 37,0.001, 37.2,0, 40.9,0, 41,1.1, 45,1.0, 50,1.1, 55,1.15, 60,1.2, 65,1.2, 70,1.2, 75,1.2, 77,1.1, 78,0.5, 78.2,0],
  [0,0.9, 2,1.2, 4,0.9, 6,1.1, 8,1.2, 10,1.5, 12,1.6, 15,1.5, 20,1.4, 25,1.5, 28,1.3, 30,1.2, 32,1.3, 35,1.4, 36.5,1.3, 37,0.001, 37.2,0, 40.9,0, 41,1.35, 45,1.3, 50,1.35, 55,1.3, 60,1.35, 65,1.35, 70,1.3, 75,1.4, 77,1.3, 78,0.5, 78.2,0]
];
const NODE2VEC_025 = [
  [0,0.8, 3,1.1, 5,1.1, 10,1.1, 15,1.05, 18,1.0, 20,1.05, 25,1.1, 30,1.15, 35,1.1, 36.5,1.0, 37,0.001, 37.2,0, 40.9,0, 41,0.7, 45,0.75, 50,0.8, 55,0.9, 60,1.1, 65,1.3, 70,1.4, 75,1.5, 77,1.3, 78,0.5, 78.2,0],
  [0,0.9, 3,1.1, 5,1.2, 10,1.2, 15,1.2, 20,1.3, 25,1.35, 30,1.3, 35,1.3, 36.5,1.1, 37,0.001, 37.2,0, 40.9,0, 41,1.1, 42,0.8, 43,0.7, 45,0.75, 50,0.8, 55,0.85, 60,0.9, 65,1.0, 70,1.1, 75,1.1, 76,1.0, 77,0.8, 78,0.6, 78.2,0],
  [0,1.1, 3,1.2, 5,1.3, 10,1.4, 15,1.45, 20,1.5, 25,1.6, 30,1.6, 33,1.5, 36.5,1.2, 37,0.001, 37.2,0, 40.9,0, 41,1.2, 45,1.25, 50,1.3, 55,1.35, 60,1.4, 65,1.5, 70,1.5, 74,1.7, 75,1.5, 77,1.3, 78,0.6, 78.2,0],
  [0,1.2, 3,1.3, 5,1.4, 10,1.5, 15,1.55, 20,1.6, 25,1.65, 30,1.7, 33,1.6, 36.5,1.3, 37,0.001, 37.2,0, 40.9,0, 41,1.4, 45,1.45, 50,1.5, 55,1.5, 60,1.5, 65,1.55, 70,1.6, 75,1.55, 77,1.4, 78,0.6, 78.2,0],
  [0,1.3, 3,1.4, 5,1.5, 10,1.6, 15,1.65, 20,1.7, 25,1.7, 30,1.65, 33,1.6, 36.5,1.4, 37,0.001, 37.2,0, 40.9,0, 41,1.45, 45,1.5, 50,1.5, 55,1.55, 60,1.55, 65,1.6, 70,1.6, 75,1.6, 77,1.5, 78,0.6, 78.2,0]
];

const panels = [
  [PPR_10, PPR_075, PPR_05, PPR_025],
  [MOD_10, MOD_075, MOD_05, MOD_025],
  [GLEE_10, GLEE_075, GLEE_05, GLEE_025],
  [EIGENMAP_10, EIGENMAP_075, EIGENMAP_05, EIGENMAP_025],
  [PCA_10, PCA_075, PCA_05, PCA_025],
  [NODE2VEC_10, NODE2VEC_075, NODE2VEC_05, NODE2VEC_025]
];

const captionLines = [
  'Entropy versus time step for all tested embeddings and configurations. Here we see that MOD, PPR,',
  'LAPLACE, and GLEE are able to compress the action space, which is indicated by the sharp drops in entropy',
  'before the entire anomaly has been discovered (< 40 steps). This is especially pronounced in the easier',
  'cases, e.g. denser anomalies, illustrated in the leftmost plots for each embedding. Sharp increases in entropy',
  'values correspond to the agent moving from one anomalous subnetwork to the other and it is faced with',
  'intermediate boundary sets with no target nodes'
];

// layout
const W = 955, H = 1105;
const colLeft = [65, 293, 523, 752];
const rowTop0 = 38, rowStep = 152.4;
const plotW = 184, plotH = 111;
const colors = ['#1f77b4', '#ff7f0e', '#2ca02c', '#d62728', '#9467bd'];
const FONT = 'DejaVu Sans';
const FLOOR = 1e-30; // zero entropy clipped far below the axis, like matplotlib

function toPoints(flat) {
  const pts = [];
  for (let i = 0; i < flat.length; i += 2) {
    pts.push([flat[i], flat[i + 1] > 0 ? flat[i + 1] : FLOOR]);
  }
  return pts;
}

const grid = [], xAxis = [], yAxis = [], series = [], legend = [], graphic = [];

panels.forEach((row, r) => {
  row.forEach((lines, c) => {
    const i = grid.length;
    const left = colLeft[c];
    const top = rowTop0 + r * rowStep;
    grid.push({
      left: left, top: top, width: plotW, height: plotH,
      show: true, borderColor: '#000', borderWidth: 0.9, backgroundColor: 'transparent'
    });
    xAxis.push({
      gridIndex: i, type: 'value', min: 0, max: 80, interval: 10,
      axisLine: { show: true, onZero: false, lineStyle: { color: '#000', width: 0.9 } },
      axisTick: { show: true, length: 2.5, lineStyle: { color: '#000', width: 0.8 } },
      axisLabel: { fontSize: 6, color: '#222', margin: 3, fontFamily: FONT },
      splitLine: { show: true, lineStyle: { color: '#cbcbcb', width: 1 } },
      name: 'Step', nameLocation: 'middle', nameGap: 10,
      nameTextStyle: { fontSize: 6, color: '#222', fontFamily: FONT }
    });
    yAxis.push({
      gridIndex: i, type: 'log', logBase: 10, min: 0.001, max: 10,
      axisLine: { show: true, lineStyle: { color: '#000', width: 0.9 } },
      axisTick: { show: true, length: 2.5, lineStyle: { color: '#000', width: 0.8 } },
      axisLabel: {
        fontSize: 6, color: '#222', margin: 3, fontFamily: FONT,
        formatter: v => entropyTicks[Math.round(Math.log10(v)) + 3] || ''
      },
      splitLine: { show: true, lineStyle: { color: '#cbcbcb', width: 1 } },
      name: 'Entropy', nameLocation: 'middle', nameGap: 22, nameRotate: 90,
      nameTextStyle: { fontSize: 6, color: '#222', fontFamily: FONT }
    });
    lines.forEach((flat, k) => {
      series.push({
        type: 'line', name: pLabels[k], xAxisIndex: i, yAxisIndex: i,
        data: toPoints(flat), symbol: 'none', showSymbol: false, clip: true,
        silent: true, animation: false,
        lineStyle: { width: 1.15, color: colors[k] },
        itemStyle: { color: colors[k] }
      });
    });
    legend.push({
      data: pLabels, orient: 'vertical', selectedMode: false,
      right: W - (left + plotW - 2), bottom: H - (top + plotH - 3),
      icon: 'rect', itemWidth: 14, itemHeight: 1.5, itemGap: 2.6, padding: [3, 4, 3, 3],
      backgroundColor: 'rgba(255,255,255,0.85)', borderColor: '#cfcfcf',
      borderWidth: 0.8, borderRadius: 2,
      textStyle: { fontSize: 6.5, lineHeight: 7.6, color: '#111', fontFamily: FONT, padding: [0, 0, 0, -1] }
    });
    graphic.push({
      type: 'text', x: left + plotW / 2, y: top - 7, silent: true,
      style: {
        text: embeddings[r] + ' Anomaly Density ' + densities[c],
        fontSize: 8, fontFamily: FONT, fill: '#111',
        align: 'center', verticalAlign: 'middle'
      }
    });
  });
});

// frame of the figure box: left edge, rounded corner, top edge
const frameStyle = { stroke: '#6a6a6a', lineWidth: 1.3, fill: null };
graphic.push({
  type: 'polyline', silent: true,
  shape: { points: [[7.5, 1097], [7.5, 22]] }, style: frameStyle
});
graphic.push({
  type: 'arc', silent: true,
  shape: { cx: 18.5, cy: 22, r: 11, startAngle: Math.PI, endAngle: Math.PI * 1.5, clockwise: true },
  style: frameStyle
});
graphic.push({
  type: 'polyline', silent: true,
  shape: { points: [[18.5, 11], [955, 11]] }, style: frameStyle
});

// caption
const capTop = 952, capStep = 26.5;
captionLines.forEach((line, n) => {
  graphic.push({
    type: 'text', x: 17, y: capTop + n * capStep, silent: true,
    style: {
      text: n === 0 ? '{b|Fig. 9}' + line : line,
      fontSize: 17.5, fontFamily: 'Noto Sans', fill: '#1a1a1a',
      align: 'left', verticalAlign: 'middle',
      rich: { b: { fontSize: 19.5, fontWeight: 'bold', fontFamily: 'Noto Sans', fill: '#1a1a1a', padding: [0, 14, 0, 0] } }
    }
  });
});

const chart = echarts.init(document.getElementById('main'), null, { renderer: 'canvas' });
chart.setOption({
  animation: false,
  backgroundColor: '#fff',
  grid: grid,
  xAxis: xAxis,
  yAxis: yAxis,
  legend: legend,
  series: series,
  graphic: graphic
});
</script>
</body>
</html>
